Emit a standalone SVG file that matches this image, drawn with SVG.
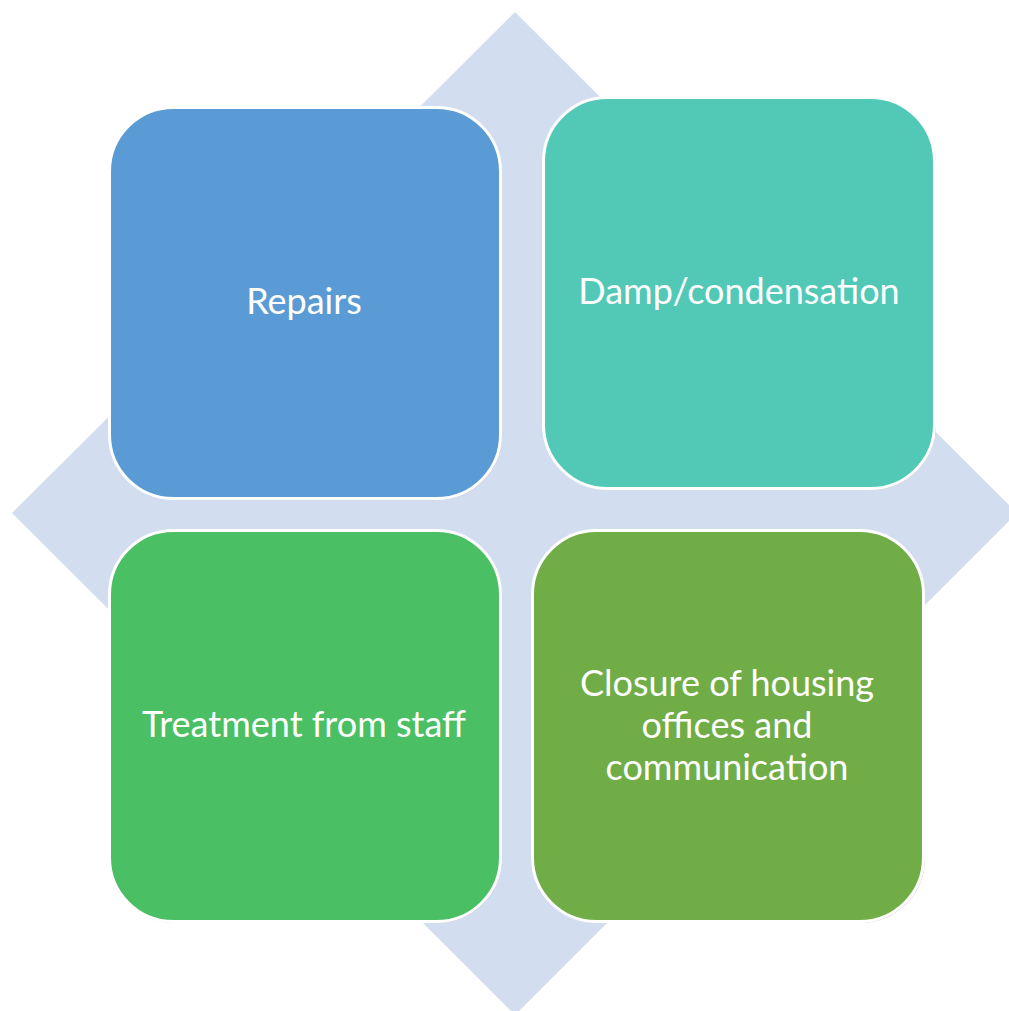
<svg xmlns="http://www.w3.org/2000/svg" width="1009" height="1011" viewBox="0 0 1009 1011">
<style>
.box{stroke:#ffffff;stroke-width:3}
.shadow{fill:none;stroke:#c8c8c8;stroke-width:1.5}
.lbl{font-family:Lato,"Open Sans",sans-serif;font-size:36px;fill:#ffffff;text-anchor:middle}
</style>
<rect width="1009" height="1011" fill="#ffffff"/>
<g id="background-diamond">
<polygon points="515,12 1017,513 515,1015 12,513" fill="#D2DDEF"/>
</g>
<g id="connectors"></g>
<g id="node-repairs">
<rect x="109.5" y="107.5" width="391" height="391" rx="64" class="shadow" transform="translate(0.8,0.8)"/>
<rect x="109.5" y="107.5" width="391" height="391" rx="64" fill="#5B9BD5" class="box"/>
<text x="304" y="314" class="lbl">Repairs</text>
</g>
<g id="node-damp">
<rect x="543.5" y="97.5" width="391" height="391" rx="64" class="shadow" transform="translate(0.8,0.8)"/>
<rect x="543.5" y="97.5" width="391" height="391" rx="64" fill="#52C9B6" class="box"/>
<text x="739" y="304" class="lbl">Damp/condensation</text>
</g>
<g id="node-treatment">
<rect x="109.5" y="530.5" width="391" height="391" rx="64" class="shadow" transform="translate(0.8,0.8)"/>
<rect x="109.5" y="530.5" width="391" height="391" rx="64" fill="#4BBF63" class="box"/>
<text x="304" y="737" class="lbl">Treatment from staff</text>
</g>
<g id="node-closure">
<rect x="532.5" y="530.5" width="391" height="391" rx="64" class="shadow" transform="translate(0.8,0.8)"/>
<rect x="532.5" y="530.5" width="391" height="391" rx="64" fill="#70AD47" class="box"/>
<text x="727" y="696" class="lbl">Closure of housing</text>
<text x="727" y="738" class="lbl">offices and</text>
<text x="727" y="780" class="lbl">communication</text>
</g>
</svg>
